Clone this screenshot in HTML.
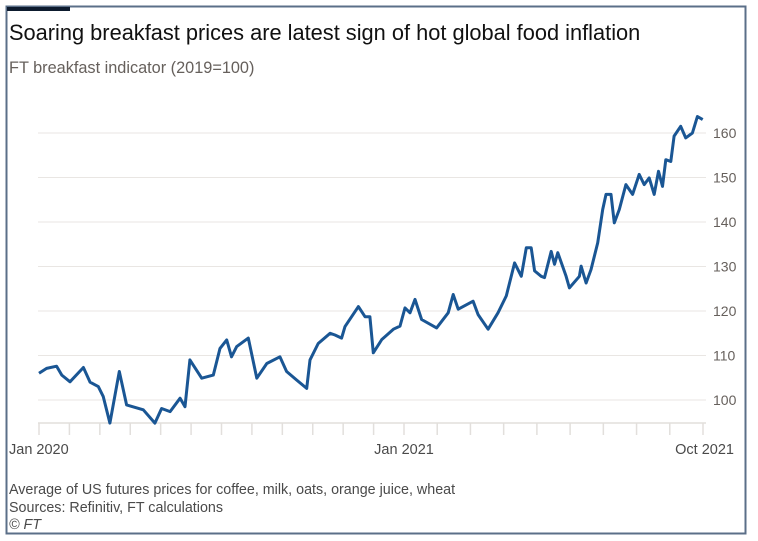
<!DOCTYPE html>
<html><head><meta charset="utf-8"><style>
html,body{margin:0;padding:0;background:#fff;}
svg{display:block;font-family:"Liberation Sans",sans-serif;}
</style></head><body>
<svg id="chart" width="758" height="541" viewBox="0 0 758 541">
<rect x="6.5" y="6.5" width="739" height="527" fill="#fff" stroke="#5b6f88" stroke-width="2"/>
<rect x="7" y="7" width="63" height="4" fill="#0d1b2e"/>
<text x="9" y="40" font-size="21.8" fill="#111">Soaring breakfast prices are latest sign of hot global food inflation</text>
<text x="9" y="73" font-size="16.3" fill="#66605c">FT breakfast indicator (2019=100)</text>
<g id="grid"></g>
<g id="xaxis"></g>
<g id="yaxis"></g>
<path id="line" fill="none" stroke="#1a5694" stroke-width="3" stroke-linejoin="round"/>
<text x="9" y="494" font-size="14.3" fill="#4a4a4a">Average of US futures prices for coffee, milk, oats, orange juice, wheat</text>
<text x="9" y="512" font-size="14.3" fill="#4a4a4a">Sources: Refinitiv, FT calculations</text>
<text x="9" y="529" font-size="14.3" font-style="italic" fill="#4a4a4a">© FT</text>
</svg>
<script>
// months since Jan 2020
const months = [0,0.25,0.58,0.75,1.02,1.46,1.68,1.95,2.11,2.33,2.64,2.88,3.43,3.81,4.03,4.31,4.64,4.80,4.96,5.35,5.73,5.95,6.17,6.33,6.50,6.88,7.16,7.49,7.92,8.14,8.47,8.80,8.91,9.18,9.57,9.73,9.95,10.06,10.50,10.72,10.88,10.99,11.27,11.65,11.87,12.03,12.18,12.33,12.53,12.98,13.33,13.48,13.63,14.08,14.23,14.53,14.83,15.08,15.33,15.53,15.68,15.83,15.93,16.13,16.23,16.43,16.53,16.63,16.88,16.98,17.28,17.33,17.48,17.63,17.83,17.98,18.08,18.23,18.33,18.48,18.68,18.88,19.08,19.23,19.38,19.53,19.66,19.78,19.88,20.03,20.13,20.33,20.48,20.68,20.83,20.99];
const values = [106,107.1,107.6,105.6,104.1,107.3,104,103,100.8,94.8,106.4,98.9,97.8,94.8,98.1,97.4,100.4,98.5,109,104.9,105.6,111.6,113.5,109.7,112,113.9,104.9,108.2,109.7,106.4,104.5,102.6,109,112.7,115,114.6,113.9,116.5,121,118.7,118.7,110.6,113.6,115.9,116.6,120.7,119.6,122.6,118.1,116.2,119.6,123.7,120.4,122.2,119.2,115.9,119.6,123.4,130.8,127.8,134.2,134.2,129,127.8,127.5,133.4,130.5,133.1,127.8,125.2,127.8,130.1,126.3,129.3,135.3,142.8,146.2,146.2,139.8,142.8,148.4,146.2,150.7,148.4,149.9,146.2,151.4,148,154,153.6,159.3,161.5,158.9,160,163.7,163];
const yTicks = [100,110,120,130,140,150,160];
const xTickMonths = [0,1,2,3,4,5,6,7,8,9,10,11,12,13,14,15,16,17,18,19,20,21];
const xLabels = [[0,"Jan 2020"],[12,"Jan 2021"],[21,"Oct 2021"]];

const NS="http://www.w3.org/2000/svg";
function xs(m){ return m<=12 ? 39+m*(404-39)/12 : 404+(m-12)*(703-404)/9; }
function ys(v){ return 400-(v-100)*44.5/10; }
function mk(tag,attrs,parent){const e=document.createElementNS(NS,tag);for(const k in attrs)e.setAttribute(k,attrs[k]);parent.appendChild(e);return e;}
const grid=document.getElementById('grid'), xa=document.getElementById('xaxis'), ya=document.getElementById('yaxis');
yTicks.forEach(v=>{
  const l=mk('line',{x1:38,x2:706,y1:ys(v),y2:ys(v),stroke:'#e9e6e3','stroke-width':1},grid);
  
  
  const t=mk('text',{x:713,y:ys(v)+5,'font-size':14,fill:'#66605c'},ya);
  t.textContent=v;
  
  
});
const base=mk('line',{x1:38,x2:706,y1:423,y2:423,stroke:'#e2dfdc','stroke-width':1.5},xa);


xTickMonths.forEach(m=>{
  const l=mk('line',{x1:xs(m),x2:xs(m),y1:423,y2:435,stroke:'#e2dfdc','stroke-width':1.5},xa);
  
  
});
xLabels.forEach(([m,s],i)=>{
  const anchor = i===0?'start':(i===xLabels.length-1?'end':'middle');
  const x = i===0?9:(i===xLabels.length-1?734:xs(m));
  const t=mk('text',{x:x,y:454,'font-size':14.5,fill:'#4a4a4a','text-anchor':anchor},xa);
  t.textContent=s;
  
  
});
let d='';
months.forEach((m,i)=>{ d+=(i?'L':'M')+xs(m).toFixed(1)+','+ys(values[i]).toFixed(1); });
document.getElementById('line').setAttribute('d',d);
</script>
</body></html>
